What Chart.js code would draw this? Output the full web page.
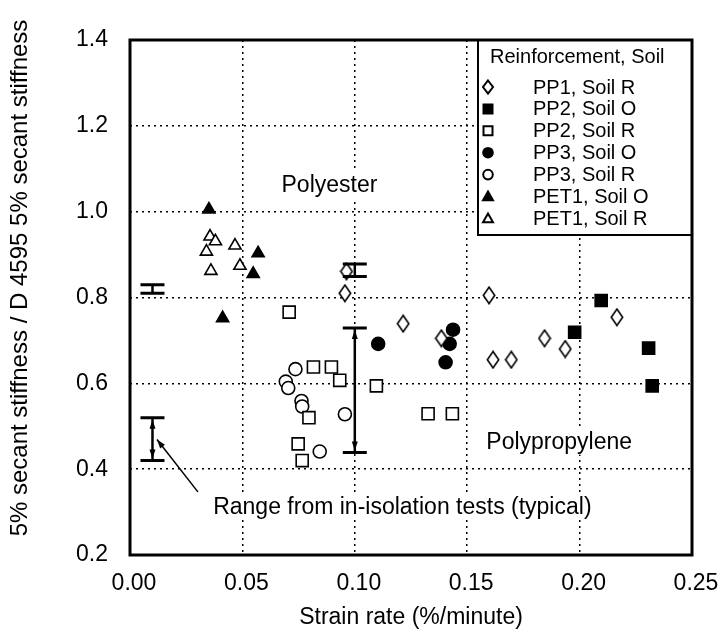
<!DOCTYPE html>
<html>
<head>
<meta charset="utf-8">
<script src="https://cdn.jsdelivr.net/npm/chart.js@4/dist/chart.umd.min.js"></script>
<style>
  html, body { margin: 0; padding: 0; background: #fff; overflow: hidden; }
  canvas { display: block; }
</style>
</head>
<body>
<canvas id="chart" width="721" height="637"></canvas>
<script>
// --- data ---
const pp1rX = [0.0963, 0.0956, 0.1215, 0.1385, 0.1597, 0.1615, 0.1696, 0.1844, 0.1936, 0.2166];
const pp1rY = [0.861, 0.810, 0.739, 0.705, 0.805, 0.655, 0.655, 0.705, 0.680, 0.754];

const pp2oX = [0.1978, 0.2096, 0.2307, 0.2323];
const pp2oY = [0.719, 0.793, 0.682, 0.594];

const pp2rX = [0.0708, 0.0816, 0.0896, 0.0933, 0.0796, 0.0748, 0.0766, 0.1096, 0.1326, 0.1434];
const pp2rY = [0.766, 0.638, 0.638, 0.607, 0.520, 0.459, 0.420, 0.594, 0.529, 0.529];

const pp3oX = [0.1104, 0.1437, 0.1422, 0.1404];
const pp3oY = [0.692, 0.725, 0.692, 0.649];

const pp3rX = [0.0736, 0.0693, 0.0704, 0.0763, 0.0766, 0.0956, 0.0844];
const pp3rY = [0.633, 0.604, 0.589, 0.559, 0.546, 0.528, 0.441];

const pet1oX = [0.0351, 0.0570, 0.0548, 0.0412];
const pet1oY = [1.005, 0.903, 0.855, 0.752];

const pet1rX = [0.0356, 0.0380, 0.0340, 0.0467, 0.0360, 0.0489];
const pet1rY = [0.942, 0.931, 0.907, 0.921, 0.862, 0.874];

// ranges from in-isolation tests (error bars)
const rangeX = [0.01, 0.01, 0.10, 0.10];
const rangeLow = [0.810, 0.420, 0.849, 0.439];
const rangeHigh = [0.830, 0.520, 0.878, 0.729];

// text notes and the pointer arrow
const noteText = ['Polyester', 'Polypropylene', 'Range from in-isolation tests (typical)'];
const noteX = [0.0674, 0.1585, 0.037];
const noteY = [1.062, 0.464, 0.313];
const arrowFrom = [0.0302, 0.347];
const arrowTo = [0.012, 0.469];

const xTicks = [0, 0.05, 0.10, 0.15, 0.20, 0.25];
const yTicks = [0.2, 0.4, 0.6, 0.8, 1.0, 1.2, 1.4];

const legendTitle = 'Reinforcement, Soil';
const FONT = '"Liberation Sans", Arial, Helvetica, sans-serif';

function pts(xs, ys) {
    return xs.map((x, i) => ({ x: x, y: ys[i] }));
}

// tall open diamond (Chart.js rectRot is square)
function diamondImage(w, h, lw) {
    const c = document.createElement('canvas');
    c.width = w; c.height = h;
    const g = c.getContext('2d');
    const m = lw / 2 + 0.5;
    g.beginPath();
    g.moveTo(w / 2, m);
    g.lineTo(w - m, h / 2);
    g.lineTo(w / 2, h - m);
    g.lineTo(m, h / 2);
    g.closePath();
    g.fillStyle = '#fff'; g.fill();
    g.lineWidth = lw; g.strokeStyle = '#000'; g.stroke();
    return c;
}

function series(label, xs, ys, style, radius, filled) {
    return {
        label: label,
        data: pts(xs, ys),
        pointStyle: style,
        pointRadius: radius,
        pointBorderWidth: 1.6,
        pointBorderColor: '#000',
        pointBackgroundColor: filled ? '#000' : '#fff',
        showLine: false,
        legendStyle: typeof style === 'string' ? style : 'diamond',
        legendFilled: filled
    };
}

const datasets = [
    series('PP1, Soil R', pp1rX, pp1rY, diamondImage(14, 19, 1.6), 8, false),
    series('PP2, Soil O', pp2oX, pp2oY, 'rect', 8.5, true),
    series('PP2, Soil R', pp2rX, pp2rY, 'rect', 8.5, false),
    series('PP3, Soil O', pp3oX, pp3oY, 'circle', 6.5, true),
    series('PP3, Soil R', pp3rX, pp3rY, 'circle', 6.5, false),
    series('PET1, Soil O', pet1oX, pet1oY, 'triangle', 7, true),
    series('PET1, Soil R', pet1rX, pet1rY, 'triangle', 7, false)
];

function legendMarker(ctx, style, x, y, filled) {
    ctx.save();
    ctx.beginPath();
    if (style === 'diamond') {
        ctx.moveTo(x, y - 6.5); ctx.lineTo(x + 5, y); ctx.lineTo(x, y + 6.5); ctx.lineTo(x - 5, y);
        ctx.closePath();
    } else if (style === 'rect') {
        ctx.rect(x - 4.5, y - 4.5, 9, 9);
    } else if (style === 'circle') {
        ctx.arc(x, y, 4.8, 0, Math.PI * 2);
    } else {
        ctx.moveTo(x, y - 5); ctx.lineTo(x + 5, y + 3.8); ctx.lineTo(x - 5, y + 3.8);
        ctx.closePath();
    }
    ctx.fillStyle = filled ? '#000' : '#fff';
    ctx.fill();
    ctx.lineWidth = 2;
    ctx.strokeStyle = '#000';
    ctx.stroke();
    ctx.restore();
}

function arrowHead(ctx, x, y, ang, len, half) {
    ctx.beginPath();
    ctx.moveTo(x, y);
    ctx.lineTo(x - len * Math.cos(ang) + half * Math.sin(ang), y - len * Math.sin(ang) - half * Math.cos(ang));
    ctx.lineTo(x - len * Math.cos(ang) - half * Math.sin(ang), y - len * Math.sin(ang) + half * Math.cos(ang));
    ctx.closePath();
    ctx.fill();
}

const decorations = {
    id: 'decorations',
    afterDraw(chart) {
        const ctx = chart.ctx;
        const xs = chart.scales.x, ys = chart.scales.y;
        const a = chart.chartArea;
        ctx.save();
        ctx.fillStyle = '#000';
        ctx.strokeStyle = '#000';

        // ranges (error bars)
        rangeX.forEach((rx, i) => {
            const px = xs.getPixelForValue(rx);
            const top = ys.getPixelForValue(rangeHigh[i]);
            const bot = ys.getPixelForValue(rangeLow[i]);
            ctx.lineWidth = 2.5;
            ctx.beginPath();
            ctx.moveTo(px, top); ctx.lineTo(px, bot);
            ctx.stroke();
            ctx.lineWidth = 3;
            ctx.beginPath();
            ctx.moveTo(px - 12, top); ctx.lineTo(px + 12, top);
            ctx.moveTo(px - 12, bot); ctx.lineTo(px + 12, bot);
            ctx.stroke();
            if (bot - top > 30) {
                arrowHead(ctx, px, top + 2, -Math.PI / 2, 9, 3);
                arrowHead(ctx, px, bot - 2, Math.PI / 2, 9, 3);
            }
        });

        // pointer arrow
        const ax0 = xs.getPixelForValue(arrowFrom[0]), ay0 = ys.getPixelForValue(arrowFrom[1]);
        const ax1 = xs.getPixelForValue(arrowTo[0]), ay1 = ys.getPixelForValue(arrowTo[1]);
        ctx.lineWidth = 1.5;
        ctx.beginPath();
        ctx.moveTo(ax0, ay0); ctx.lineTo(ax1, ay1);
        ctx.stroke();
        arrowHead(ctx, ax1, ay1, Math.atan2(ay1 - ay0, ax1 - ax0), 9, 3);

        // notes with white background
        ctx.font = '23px ' + FONT;
        ctx.textBaseline = 'middle';
        ctx.textAlign = 'left';
        noteText.forEach((t, i) => {
            const px = xs.getPixelForValue(noteX[i]);
            const py = ys.getPixelForValue(noteY[i]);
            const w = ctx.measureText(t).width;
            ctx.fillStyle = '#fff';
            ctx.fillRect(px - 2, py - 13, w + 4, 26);
            ctx.fillStyle = '#000';
            ctx.fillText(t, px, py + 1);
        });

        // legend box
        const lx = 478, ly = a.top, lw = a.right - 478, lh = 195;
        ctx.fillStyle = '#fff';
        ctx.fillRect(lx, ly, lw, lh);
        ctx.lineWidth = 2;
        ctx.strokeRect(lx, ly, lw, lh);
        ctx.fillStyle = '#000';
        ctx.font = '20px ' + FONT;
        ctx.fillText(legendTitle, 490, 57);
        chart.data.datasets.forEach((ds, i) => {
            const yy = 87 + i * 21.9;
            legendMarker(ctx, ds.legendStyle, 488, yy, ds.legendFilled);
            ctx.fillStyle = '#000';
            ctx.fillText(ds.label, 533, yy + 1);
        });

        // frame
        ctx.lineWidth = 3;
        ctx.strokeRect(a.left, a.top, a.right - a.left, a.bottom - a.top);

        // axis titles
        ctx.font = '23px ' + FONT;
        ctx.textAlign = 'center';
        ctx.fillText('Strain rate (%/minute)', (a.left + a.right) / 2, 618);
        ctx.translate(20, 278);
        ctx.rotate(-Math.PI / 2);
        ctx.font = '24px ' + FONT;
        ctx.fillText('5% secant stiffness / D 4595 5% secant stiffness', 0, 0);
        ctx.restore();
    }
};

const ctx = document.getElementById('chart').getContext('2d');
new Chart(ctx, {
    type: 'scatter',
    data: { datasets: datasets },
    options: {
        responsive: false,
        animation: false,
        devicePixelRatio: 1,
        layout: { padding: { top: 40, right: 29, left: 0, bottom: 0 } },
        plugins: { legend: { display: false }, tooltip: { enabled: false } },
        scales: {
            x: {
                type: 'linear',
                min: xTicks[0],
                max: xTicks[xTicks.length - 1],
                afterFit: (s) => { s.height = 82; s.paddingLeft = 0; s.paddingRight = 0; },
                afterBuildTicks: (s) => { s.ticks = xTicks.map(v => ({ value: v })); },
                ticks: {
                    callback: (v) => Number(v).toFixed(2),
                    color: '#000',
                    font: { family: FONT, size: 23 },
                    padding: 15,
                    labelOffset: 4,
                    maxRotation: 0
                },
                grid: { color: '#000', lineWidth: 1.5, drawTicks: false },
                border: { display: false, dash: [2, 4] }
            },
            y: {
                type: 'linear',
                min: yTicks[0],
                max: yTicks[yTicks.length - 1],
                afterFit: (s) => { s.width = 130; s.paddingTop = 0; s.paddingBottom = 0; },
                afterBuildTicks: (s) => { s.ticks = yTicks.map(v => ({ value: v })); },
                ticks: {
                    callback: (v) => Number(v).toFixed(1),
                    color: '#000',
                    font: { family: FONT, size: 23 },
                    padding: 22
                },
                grid: { color: '#000', lineWidth: 1.5, drawTicks: false },
                border: { display: false, dash: [2, 4] }
            }
        }
    },
    plugins: [decorations]
});
</script>
</body>
</html>
